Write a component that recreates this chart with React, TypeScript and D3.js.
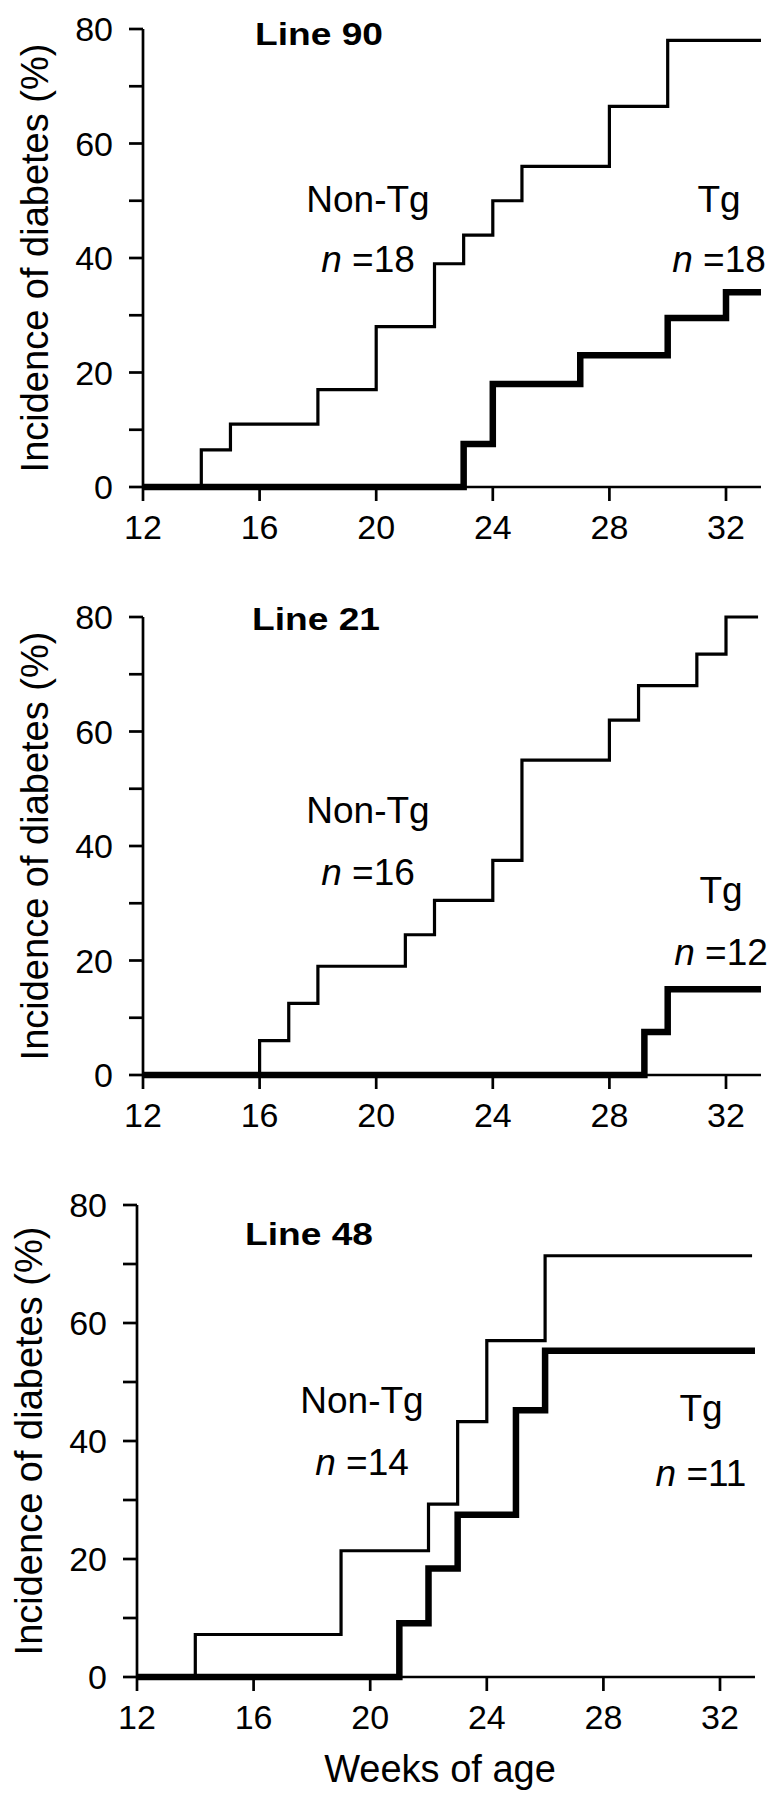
import React, { useEffect, useRef } from 'react';
import * as d3 from 'd3';

// x ticks (weeks) and y ticks (%)
const weekTicks = [12, 16, 20, 24, 28, 32];
const pctTicks = [0, 10, 20, 30, 40, 50, 60, 70, 80];
const pctLabels = [0, 20, 40, 60, 80];

// Line 90
const l90NonTgWeeks = [12, 14, 15, 18, 20, 22, 23, 24, 25, 28, 30, 33.2];
const l90NonTgPct = [0, 6.5, 11, 17, 28, 39, 44, 50, 56, 66.5, 78, 78];
const l90TgWeeks = [12, 23, 24, 27, 30, 32, 33.2];
const l90TgPct = [0, 7.5, 18, 23, 29.5, 34, 34];

// Line 21
const l21NonTgWeeks = [12, 16, 17, 18, 21, 22, 24, 25, 28, 29, 31, 32, 33.1];
const l21NonTgPct = [0, 6, 12.5, 19, 24.5, 30.5, 37.5, 55, 62, 68, 73.5, 80, 80];
const l21TgWeeks = [12, 29.2, 30, 33.2];
const l21TgPct = [0, 7.5, 15, 15];

// Line 48
const l48NonTgWeeks = [12, 14, 19, 22, 23, 24, 26, 33.1];
const l48NonTgPct = [0, 7.2, 21.4, 29.3, 43.3, 57, 71.4, 71.4];
const l48TgWeeks = [12, 21, 22, 23, 25, 26, 33.2];
const l48TgPct = [0, 9.1, 18.4, 27.5, 45.2, 55.3, 55.3];

const panelTitles = ['Line 90', 'Line 21', 'Line 48'];
const nonTgN = [18, 16, 14];
const tgN = [18, 12, 11];

const series = [
  { nonTg: [l90NonTgWeeks, l90NonTgPct], tg: [l90TgWeeks, l90TgPct] },
  { nonTg: [l21NonTgWeeks, l21NonTgPct], tg: [l21TgWeeks, l21TgPct] },
  { nonTg: [l48NonTgWeeks, l48NonTgPct], tg: [l48TgWeeks, l48TgPct] },
];

// layout of each panel
const layout = [
  { left: 143, top: 29, bottom: 487, titleX: 255, titleY: 45, ntX: 368, ntY: 212, ntNY: 272, tgX: 719, tgY: 212, tgNY: 272 },
  { left: 143, top: 617, bottom: 1075, titleX: 252, titleY: 630, ntX: 368, ntY: 823, ntNY: 885, tgX: 721, tgY: 903, tgNY: 965 },
  { left: 137, top: 1205, bottom: 1677, titleX: 245, titleY: 1245, ntX: 362, ntY: 1413, ntNY: 1475, tgX: 701, tgY: 1421, tgNY: 1486 },
];

const W = 775;
const H = 1800;
const pxPerWeek = 29.15;
const font = 'Liberation Sans, Arial, Helvetica, sans-serif';

const App: React.FC = () => {
  const ref = useRef<SVGSVGElement>(null);

  useEffect(() => {
    document.body.style.margin = '0';
    if (!ref.current) return;
    const svg = d3.select(ref.current);
    svg.selectAll('*').remove();

    layout.forEach((L, i) => {
      const x = d3.scaleLinear().domain([12, 33.2]).range([L.left, L.left + 21.2 * pxPerWeek]);
      const y = d3.scaleLinear().domain([0, 80]).range([L.bottom, L.top]);
      const g = svg.append('g');

      // axes
      g.append('line')
        .attr('x1', x(12)).attr('x2', x(12))
        .attr('y1', y(0)).attr('y2', y(80))
        .attr('stroke', '#000').attr('stroke-width', 2.7);
      g.append('line')
        .attr('x1', x(12)).attr('x2', x(33.2))
        .attr('y1', y(0)).attr('y2', y(0))
        .attr('stroke', '#000').attr('stroke-width', 2.7);

      g.selectAll('.yt').data(pctTicks).enter().append('line')
        .attr('x1', x(12) - 14).attr('x2', x(12))
        .attr('y1', d => y(d)).attr('y2', d => y(d))
        .attr('stroke', '#000').attr('stroke-width', 2.7);
      g.selectAll('.yl').data(pctLabels).enter().append('text')
        .attr('x', x(12) - 30).attr('y', d => y(d)).attr('dy', '0.36em')
        .attr('text-anchor', 'end')
        .style('font-family', font).style('font-size', '34px')
        .text(d => d);

      g.selectAll('.xt').data(weekTicks).enter().append('line')
        .attr('x1', d => x(d)).attr('x2', d => x(d))
        .attr('y1', y(0)).attr('y2', y(0) + 14)
        .attr('stroke', '#000').attr('stroke-width', 2.7);
      g.selectAll('.xl').data(weekTicks).enter().append('text')
        .attr('x', d => x(d)).attr('y', y(0) + 52)
        .attr('text-anchor', 'middle')
        .style('font-family', font).style('font-size', '34px')
        .text(d => d);

      // y title
      g.append('text')
        .attr('transform', `translate(${L.left - 95},${(L.top + L.bottom) / 2}) rotate(-90)`)
        .attr('text-anchor', 'middle')
        .style('font-family', font).style('font-size', '38px')
        .text('Incidence of diabetes (%)');

      // step lines
      const line = d3.line<[number, number]>()
        .x(d => x(d[0]))
        .y(d => y(d[1]))
        .curve(d3.curveStepAfter);
      const s = series[i];
      const nonTgPts = s.nonTg[0].map((w, k) => [w, s.nonTg[1][k]] as [number, number]);
      const tgPts = s.tg[0].map((w, k) => [w, s.tg[1][k]] as [number, number]);
      g.append('path').datum(nonTgPts)
        .attr('d', line).attr('fill', 'none')
        .attr('stroke', '#000').attr('stroke-width', 3.2);
      g.append('path').datum(tgPts)
        .attr('d', line).attr('fill', 'none')
        .attr('stroke', '#000').attr('stroke-width', 6.5);

      // labels
      g.append('text')
        .attr('x', L.titleX).attr('y', L.titleY)
        .attr('textLength', 128).attr('lengthAdjust', 'spacingAndGlyphs')
        .style('font-family', font).style('font-size', '31px').style('font-weight', 'bold')
        .text(panelTitles[i]);

      const addGroup = (cx: number, cy: number, ny: number, name: string, n: number) => {
        g.append('text')
          .attr('x', cx).attr('y', cy).attr('text-anchor', 'middle')
          .style('font-family', font).style('font-size', '37px')
          .text(name);
        const t = g.append('text')
          .attr('x', cx).attr('y', ny).attr('text-anchor', 'middle')
          .style('font-family', font).style('font-size', '37px');
        t.append('tspan').style('font-style', 'italic').text('n');
        t.append('tspan').text(` =${n}`);
      };
      addGroup(L.ntX, L.ntY, L.ntNY, 'Non-Tg', nonTgN[i]);
      addGroup(L.tgX, L.tgY, L.tgNY, 'Tg', tgN[i]);

      if (i === 2) {
        g.append('text')
          .attr('x', 440).attr('y', 1782).attr('text-anchor', 'middle')
          .style('font-family', font).style('font-size', '38px')
          .text('Weeks of age');
      }
    });
  }, []);

  return (
    <svg ref={ref} width={W} height={H} style={{ display: 'block', background: '#fff' }} />
  );
};

export default App;
